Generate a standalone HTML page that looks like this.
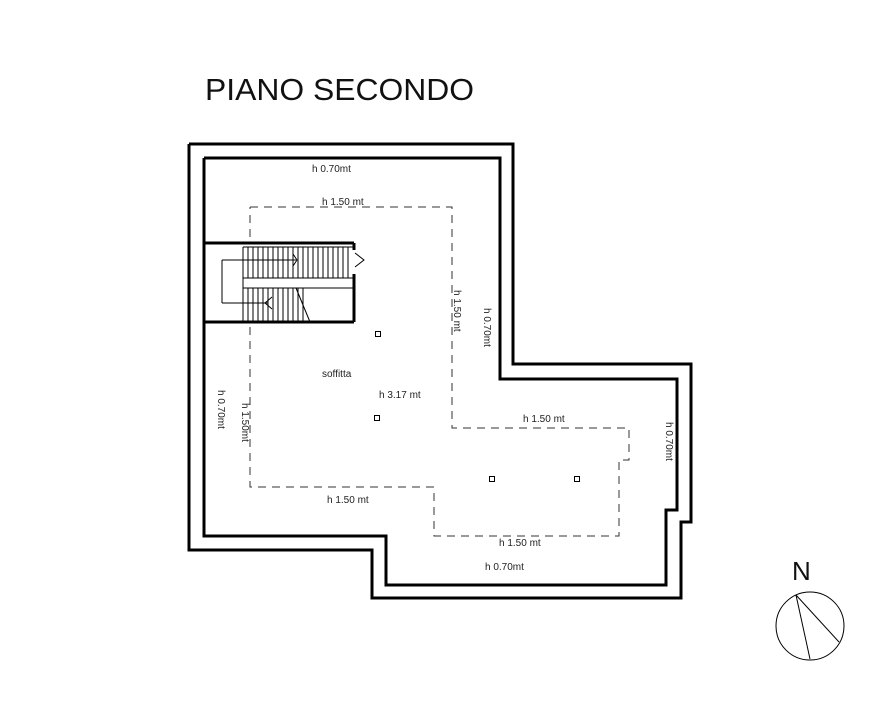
<!DOCTYPE html>
<html><head><style>body{margin:0;background:#fff}svg{display:block}</style></head><body>
<svg width="891" height="722" viewBox="0 0 891 722" xmlns="http://www.w3.org/2000/svg" font-family="Liberation Sans, sans-serif">
<rect width="891" height="722" fill="#fff"/>
<text x="205" y="100" font-size="31" fill="#111" textLength="269" lengthAdjust="spacingAndGlyphs">PIANO SECONDO</text>
<g fill="none" stroke="#000" stroke-width="3">
<polyline points="189,144 513,144 513,364 691,364 691,522 681,522 681,598 372,598 372,550 189,550 189,144"/>
<polyline points="204,158 500,158 500,379 677,379 677,510 666,510 666,585 386,585 386,536 204,536 204,158"/>
</g>
<polyline fill="none" stroke="#333" stroke-width="1" stroke-dasharray="8,6" points="250,207 452,207 452,428 629,428 629,460 619,460 619,536 434,536 434,487 250,487 250,207"/>
<rect x="204" y="243" width="150" height="79" fill="#fff" stroke="none"/>
<g stroke="#000">
<line x1="204" y1="243" x2="354" y2="243" stroke-width="3"/>
<line x1="204" y1="322" x2="354" y2="322" stroke-width="3"/>
<line x1="204" y1="243" x2="204" y2="322" stroke-width="3"/>
<line x1="354" y1="243" x2="354" y2="250" stroke-width="3"/>
<line x1="354" y1="274" x2="354" y2="322" stroke-width="3"/>
<line x1="243" y1="247" x2="353" y2="247" stroke-width="1"/>
<line x1="243" y1="278" x2="353" y2="278" stroke-width="1"/>
<line x1="243" y1="288" x2="353" y2="288" stroke-width="1"/>
<line x1="222" y1="260" x2="296" y2="260" stroke-width="1"/>
<line x1="222" y1="303" x2="268" y2="303" stroke-width="1"/>
<line x1="222" y1="260" x2="222" y2="303" stroke-width="1"/>
<line x1="243" y1="247" x2="243" y2="322" stroke-width="1"/>
</g>
<g stroke="#000" stroke-width="1">
<path d="M248 247V278M253 247V278M258 247V278M263 247V278M268 247V278M273 247V278M278 247V278M283 247V278M288 247V278M293 247V278M298 247V278M303 247V278M308 247V278M313 247V278M318 247V278M323 247V278M328 247V278M333 247V278M338 247V278M343 247V278M348 247V278"/>
<path d="M248 288V322M253 288V322M258 288V322M263 288V322M268 288V322M273 288V322M278 288V322M283 288V322M288 288V322M293 288V322M298 288V322M303 288V322"/>
<path d="M293 254L297 260L293 266" fill="none"/>
<path d="M272 297L265 303L272 309" fill="none"/>
<path d="M296 288L310 322" />
<path d="M355 253L364 260L355 267" fill="none"/>
</g>
<g font-size="10" fill="#222">
<text x="312" y="172">h 0.70mt</text>
<text x="322" y="205">h 1.50 mt</text>
<text x="322" y="377">soffitta</text>
<text x="379" y="398">h 3.17 mt</text>
<text x="523" y="422">h 1.50 mt</text>
<text x="327" y="503">h 1.50 mt</text>
<text x="499" y="546">h 1.50 mt</text>
<text x="485" y="570">h 0.70mt</text>
<text transform="translate(454,290) rotate(90)">h 1.50 mt</text>
<text transform="translate(484,308) rotate(90)">h 0.70mt</text>
<text transform="translate(666,422) rotate(90)">h 0.70mt</text>
<text transform="translate(218,390) rotate(90)">h 0.70mt</text>
<text transform="translate(242,403) rotate(90)">h 1.50mt</text>
</g>
<g fill="none" stroke="#000" stroke-width="1">
<rect x="375.5" y="331.5" width="5" height="5"/>
<rect x="374.5" y="415.5" width="5" height="5"/>
<rect x="489.5" y="476.5" width="5" height="5"/>
<rect x="574.5" y="476.5" width="5" height="5"/>
<circle cx="810" cy="626" r="34"/>
<line x1="796" y1="595" x2="810" y2="659"/>
<line x1="796" y1="595" x2="839" y2="642"/>
</g>
<text x="792" y="580" font-size="26" fill="#111">N</text>
</svg>
</body></html>
